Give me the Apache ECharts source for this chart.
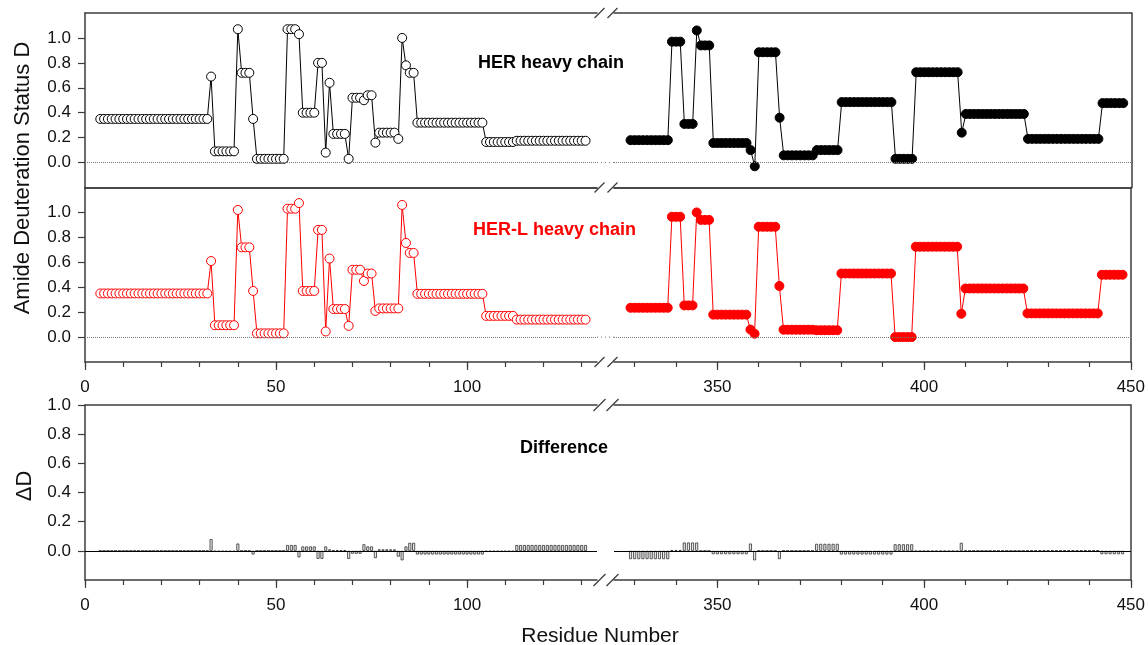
<!DOCTYPE html>
<html>
<head>
<meta charset="utf-8">
<script src="https://cdn.jsdelivr.net/npm/echarts@6/dist/echarts.min.js"></script>
<style>
html, body { margin: 0; padding: 0; background: #fff; }
#main { width: 1148px; height: 645px; }
</style>
</head>
<body>
<div id="main"></div>
<script>
// first residue number of each axis segment (one value per residue after that)
const firstResLeft = 4;
const firstResRight = 329;

// HER heavy chain, residues 4-131
const herLeft = [
  0.35, 0.35, 0.35, 0.35, 0.35, 0.35, 0.35, 0.35, 0.35, 0.35, 0.35, 0.35, 0.35, 0.35, 0.35,
  0.35, 0.35, 0.35, 0.35, 0.35, 0.35, 0.35, 0.35, 0.35, 0.35, 0.35, 0.35, 0.35, 0.35,
  0.69, 0.09, 0.09, 0.09, 0.09, 0.09, 0.09, 1.07, 0.72, 0.72, 0.72, 0.35,
  0.03, 0.03, 0.03, 0.03, 0.03, 0.03, 0.03, 0.03, 1.07, 1.07, 1.07, 1.03,
  0.40, 0.40, 0.40, 0.40, 0.80, 0.80, 0.08, 0.64, 0.23, 0.23, 0.23, 0.23, 0.03,
  0.52, 0.52, 0.52, 0.50, 0.54, 0.54, 0.16, 0.24, 0.24, 0.24, 0.24, 0.24, 0.19,
  1.00, 0.78, 0.72, 0.72,
  0.32, 0.32, 0.32, 0.32, 0.32, 0.32, 0.32, 0.32, 0.32, 0.32, 0.32, 0.32, 0.32, 0.32, 0.32, 0.32, 0.32, 0.32,
  0.165, 0.165, 0.165, 0.165, 0.165, 0.165, 0.165, 0.165,
  0.175, 0.175, 0.175, 0.175, 0.175, 0.175, 0.175, 0.175, 0.175, 0.175, 0.175, 0.175, 0.175, 0.175, 0.175,
  0.175, 0.175, 0.175, 0.175
];
// HER heavy chain, residues 329-448
const herRight = [
  0.18, 0.18, 0.18, 0.18, 0.18, 0.18, 0.18, 0.18, 0.18, 0.18,
  0.97, 0.97, 0.97, 0.31, 0.31, 0.31, 1.06, 0.94, 0.94, 0.94,
  0.157, 0.157, 0.157, 0.157, 0.157, 0.157, 0.157, 0.157, 0.157, 0.10, -0.03,
  0.885, 0.885, 0.885, 0.885, 0.885, 0.36,
  0.058, 0.058, 0.058, 0.058, 0.058, 0.058, 0.058, 0.058, 0.10, 0.10, 0.10, 0.10, 0.10, 0.10,
  0.485, 0.485, 0.485, 0.485, 0.485, 0.485, 0.485, 0.485, 0.485, 0.485, 0.485, 0.485, 0.485,
  0.03, 0.03, 0.03, 0.03, 0.03,
  0.725, 0.725, 0.725, 0.725, 0.725, 0.725, 0.725, 0.725, 0.725, 0.725, 0.725, 0.24,
  0.39, 0.39, 0.39, 0.39, 0.39, 0.39, 0.39, 0.39, 0.39, 0.39, 0.39, 0.39, 0.39, 0.39, 0.39,
  0.19, 0.19, 0.19, 0.19, 0.19, 0.19, 0.19, 0.19, 0.19, 0.19, 0.19, 0.19, 0.19, 0.19, 0.19, 0.19, 0.19, 0.19,
  0.477, 0.477, 0.477, 0.477, 0.477, 0.477
];

// HER-L heavy chain, residues 4-131
const herlLeft = [
  0.35, 0.35, 0.35, 0.35, 0.35, 0.35, 0.35, 0.35, 0.35, 0.35, 0.35, 0.35, 0.35, 0.35, 0.35,
  0.35, 0.35, 0.35, 0.35, 0.35, 0.35, 0.35, 0.35, 0.35, 0.35, 0.35, 0.35, 0.35, 0.35,
  0.61, 0.095, 0.095, 0.095, 0.095, 0.095, 0.095, 1.02, 0.72, 0.72, 0.72, 0.37,
  0.03, 0.03, 0.03, 0.03, 0.03, 0.03, 0.03, 0.03, 1.03, 1.03, 1.03, 1.075,
  0.37, 0.37, 0.37, 0.37, 0.86, 0.86, 0.045, 0.63, 0.225, 0.225, 0.225, 0.225, 0.09,
  0.54, 0.54, 0.54, 0.45, 0.51, 0.51, 0.21, 0.23, 0.23, 0.23, 0.23, 0.23, 0.23,
  1.06, 0.755, 0.675, 0.675,
  0.347, 0.347, 0.347, 0.347, 0.347, 0.347, 0.347, 0.347, 0.347, 0.347, 0.347, 0.347, 0.347, 0.347, 0.347,
  0.347, 0.347, 0.347,
  0.17, 0.17, 0.17, 0.17, 0.17, 0.17, 0.17, 0.17,
  0.14, 0.14, 0.14, 0.14, 0.14, 0.14, 0.14, 0.14, 0.14, 0.14, 0.14, 0.14, 0.14, 0.14, 0.14,
  0.14, 0.14, 0.14, 0.14
];
// HER-L heavy chain, residues 329-448
const herlRight = [
  0.235, 0.235, 0.235, 0.235, 0.235, 0.235, 0.235, 0.235, 0.235, 0.235,
  0.965, 0.965, 0.965, 0.254, 0.254, 0.254, 1.00, 0.94, 0.94, 0.94,
  0.18, 0.18, 0.18, 0.18, 0.18, 0.18, 0.18, 0.18, 0.18, 0.06, 0.027,
  0.885, 0.885, 0.885, 0.885, 0.885, 0.41,
  0.059, 0.059, 0.059, 0.059, 0.059, 0.059, 0.059, 0.059, 0.055, 0.055, 0.055, 0.055, 0.055, 0.055,
  0.51, 0.51, 0.51, 0.51, 0.51, 0.51, 0.51, 0.51, 0.51, 0.51, 0.51, 0.51, 0.51,
  0.0, 0.0, 0.0, 0.0, 0.0,
  0.725, 0.725, 0.725, 0.725, 0.725, 0.725, 0.725, 0.725, 0.725, 0.725, 0.725, 0.187,
  0.39, 0.39, 0.39, 0.39, 0.39, 0.39, 0.39, 0.39, 0.39, 0.39, 0.39, 0.39, 0.39, 0.39, 0.39,
  0.19, 0.19, 0.19, 0.19, 0.19, 0.19, 0.19, 0.19, 0.19, 0.19, 0.19, 0.19, 0.19, 0.19, 0.19, 0.19, 0.19, 0.19,
  0.50, 0.50, 0.50, 0.50, 0.50, 0.50
];

// Difference (HER - HER-L), residues 4-131
const diffLeft = [
  0, 0, 0, 0, 0, 0, 0, 0, 0, 0, 0, 0, 0, 0, 0, 0, 0, 0, 0, 0, 0, 0, 0, 0, 0, 0, 0, 0, 0,
  0.08, -0.005, -0.005, -0.005, -0.005, -0.005, -0.005, 0.05, 0, 0, 0, -0.025,
  0, 0, 0, 0, 0, 0, 0, 0, 0.04, 0.04, 0.04, -0.045,
  0.03, 0.03, 0.03, 0.03, -0.055, -0.055, 0.03, 0.01, 0.005, 0.005, 0.005, 0.005, -0.055,
  -0.02, -0.02, -0.02, 0.045, 0.03, 0.03, -0.05, 0.01, 0.01, 0.01, 0.01, 0.01, -0.04,
  -0.065, 0.03, 0.055, 0.055,
  -0.025, -0.025, -0.025, -0.025, -0.025, -0.025, -0.025, -0.025, -0.025, -0.025, -0.025, -0.025,
  -0.025, -0.025, -0.025, -0.025, -0.025, -0.025,
  -0.005, -0.005, -0.005, -0.005, -0.005, -0.005, -0.005, -0.005,
  0.04, 0.04, 0.04, 0.04, 0.04, 0.04, 0.04, 0.04, 0.04, 0.04, 0.04, 0.04, 0.04, 0.04, 0.04,
  0.04, 0.04, 0.04, 0.04
];
// Difference (HER - HER-L), residues 329-448
const diffRight = [
  -0.057, -0.057, -0.057, -0.057, -0.057, -0.057, -0.057, -0.057, -0.057, -0.057,
  0.005, 0.005, 0.005, 0.057, 0.057, 0.057, 0.057, 0, 0, 0,
  -0.023, -0.023, -0.023, -0.023, -0.023, -0.023, -0.023, -0.023, -0.023, 0.05, -0.065,
  0, 0, 0, 0, 0, -0.057,
  0, 0, 0, 0, 0, 0, 0, 0, 0.048, 0.048, 0.048, 0.048, 0.048, 0.048,
  -0.025, -0.025, -0.025, -0.025, -0.025, -0.025, -0.025, -0.025, -0.025, -0.025, -0.025, -0.025, -0.025,
  0.045, 0.045, 0.045, 0.045, 0.045,
  -0.003, -0.003, -0.003, -0.003, -0.003, -0.003, -0.003, -0.003, -0.003, -0.003, -0.003, 0.055,
  0, 0, 0, 0, 0, 0, 0, 0, 0, 0, 0, 0, 0, 0, 0,
  0.003, 0.003, 0.003, 0.003, 0.003, 0.003, 0.003, 0.003, 0.003, 0.003, 0.003, 0.003, 0.003, 0.003, 0.003,
  0.003, 0.003, 0.003,
  -0.023, -0.023, -0.023, -0.023, -0.023, -0.023
];

// axis ticks / labels
const xTicksLeft = [0, 10, 20, 30, 40, 50, 60, 70, 80, 90, 100, 110, 120, 130];
const xLabelsLeft = [0, 50, 100];
const xTicksRight = [330, 340, 350, 360, 370, 380, 390, 400, 410, 420, 430, 440, 450];
const xLabelsRight = [350, 400, 450];
const yTicks = [0, 0.2, 0.4, 0.6, 0.8, 1.0];

const font = 'Liberation Sans, Arial, Helvetica, sans-serif';
const frame = { color: '#3c3c3c', width: 1.5 };
const tickLine = { color: '#3c3c3c', width: 1.2 };

// layout (px)
const segL = { left: 85, width: 512, min: 0, max: 134, ticks: xTicksLeft, labels: xLabelsLeft };
const segR = { left: 614, width: 517.5, min: 325, max: 450, ticks: xTicksRight, labels: xLabelsRight };
const panels = [
  { top: 13, height: 174.5, ymin: -0.2, ymax: 1.2, xlab: false },
  { top: 187.5, height: 174.5, ymin: -0.2, ymax: 1.2, xlab: true },
  { top: 405, height: 175, ymin: -0.2, ymax: 1.0, xlab: true }
];

function pairs(first, vals) {
  return vals.map((v, i) => [first + i, v]);
}

const grid = [], xAxis = [], yAxis = [];
const majorAxes = [];
panels.forEach((p) => {
  [segL, segR].forEach((s, k) => {
    const g = grid.length;
    grid.push({ left: s.left, width: s.width, top: p.top, height: p.height });
    // bottom axis (index 2g) and top frame line (index 2g+1)
    xAxis.push({
      type: 'value', gridIndex: g, position: 'bottom', min: s.min, max: s.max,
      axisLine: { onZero: false, lineStyle: frame },
      axisTick: { show: p.xlab, customValues: s.ticks, length: 5, lineStyle: tickLine },
      axisLabel: { show: p.xlab, customValues: s.labels, margin: 17, fontSize: 17, color: '#111', fontFamily: font },
      splitLine: { show: false }
    });
    xAxis.push({
      type: 'value', gridIndex: g, position: 'top', min: s.min, max: s.max,
      axisLine: { onZero: false, lineStyle: frame },
      axisTick: { show: false }, axisLabel: { show: false }, splitLine: { show: false }
    });
    if (p.xlab) {
      // longer ticks at the labelled values
      majorAxes.push({
        type: 'value', gridIndex: g, position: 'bottom', min: s.min, max: s.max,
        axisLine: { show: false, onZero: false },
        axisTick: { show: true, customValues: s.labels, length: 8, lineStyle: tickLine },
        axisLabel: { show: false }, splitLine: { show: false }
      });
    }
    yAxis.push({
      type: 'value', gridIndex: g, position: k === 0 ? 'left' : 'right',
      min: p.ymin, max: p.ymax, interval: 0.2,
      axisLine: { show: true, onZero: false, lineStyle: frame },
      axisTick: { show: k === 0, customValues: yTicks, length: 7, lineStyle: tickLine },
      axisLabel: {
        show: k === 0, customValues: yTicks, margin: 14, fontSize: 17, color: '#111', fontFamily: font,
        formatter: (v) => v.toFixed(1)
      },
      splitLine: { show: false }
    });
  });
});
xAxis.push(...majorAxes);

const dotted = {
  silent: true, symbol: 'none', label: { show: false },
  lineStyle: { type: 'dotted', color: '#777', width: 1 },
  data: [{ yAxis: 0 }]
};
const solid = {
  silent: true, symbol: 'none', label: { show: false },
  lineStyle: { type: 'solid', color: '#000', width: 1 },
  data: [{ yAxis: 0 }]
};

function lineSeries(name, g, data, color, open) {
  return {
    name: name, type: 'line', xAxisIndex: 2 * g, yAxisIndex: g, data: data,
    symbol: 'circle', symbolSize: 9,
    lineStyle: { color: color, width: 1 },
    itemStyle: { color: open ? '#fff' : color, borderColor: color, borderWidth: 1 },
    markLine: dotted, z: 3
  };
}
function barSeries(g, data) {
  return {
    type: 'bar', xAxisIndex: 2 * g, yAxisIndex: g, data: data, barWidth: 3,
    itemStyle: { color: '#e6e6e6', borderColor: '#333', borderWidth: 0.8 },
    markLine: solid
  };
}

const series = [
  lineSeries('HER', 0, pairs(firstResLeft, herLeft), '#000', true),
  lineSeries('HER', 1, pairs(firstResRight, herRight), '#000', false),
  lineSeries('HER-L', 2, pairs(firstResLeft, herlLeft), '#ff0000', true),
  lineSeries('HER-L', 3, pairs(firstResRight, herlRight), '#ff0000', false),
  barSeries(4, pairs(firstResLeft, diffLeft)),
  barSeries(5, pairs(firstResRight, diffRight))
];

// axis-break slashes on each horizontal frame line
const breakYs = [[13, 5], [187.5, 5], [362, 5], [405, 6], [580, 6]];
const graphic = [];
breakYs.forEach(([y, h]) => {
  [599.5, 612.5].forEach((cx) => {
    graphic.push({
      type: 'line', silent: true,
      shape: { x1: cx - h, y1: y + h, x2: cx + h, y2: y - h },
      style: { stroke: '#3c3c3c', lineWidth: 1.3 }
    });
  });
});
graphic.push(
  {
    type: 'text', x: 23, y: 178, rotation: Math.PI / 2,
    style: { text: 'Amide Deuteration Status D', font: '22px ' + font, fill: '#111', align: 'center', verticalAlign: 'middle' }
  },
  {
    type: 'text', x: 25, y: 486, rotation: Math.PI / 2,
    style: { text: 'ΔD', font: '22px ' + font, fill: '#111', align: 'center', verticalAlign: 'middle' }
  },
  {
    type: 'text', x: 600, y: 636,
    style: { text: 'Residue Number', font: '21px ' + font, fill: '#111', align: 'center', verticalAlign: 'middle' }
  }
);

const titleStyle = { fontSize: 18, fontWeight: 'bold', fontFamily: font };
const chart = echarts.init(document.getElementById('main'));
chart.setOption({
  animation: false,
  backgroundColor: '#fff',
  title: [
    { text: 'HER heavy chain', left: 478, top: 54, padding: 0, textStyle: Object.assign({ color: '#000' }, titleStyle) },
    { text: 'HER-L heavy chain', left: 473, top: 221, padding: 0, textStyle: Object.assign({ color: '#ff0000' }, titleStyle) },
    { text: 'Difference', left: 520, top: 439, padding: 0, textStyle: Object.assign({ color: '#000' }, titleStyle) }
  ],
  grid: grid,
  xAxis: xAxis,
  yAxis: yAxis,
  series: series,
  graphic: graphic
});

// dotted zero line continues across the axis break in the two upper panels
[0, 2].forEach((g) => {
  const a = chart.convertToPixel({ xAxisIndex: 2 * g, yAxisIndex: g }, [segL.max, 0]);
  const b = chart.convertToPixel({ xAxisIndex: 2 * g + 2, yAxisIndex: g + 1 }, [segR.min, 0]);
  graphic.push({
    type: 'line', silent: true,
    shape: { x1: a[0], y1: a[1], x2: b[0], y2: b[1] },
    style: { stroke: '#777', lineWidth: 1, lineDash: [1, 3] }
  });
});
chart.setOption({ graphic: graphic });
</script>
</body>
</html>
